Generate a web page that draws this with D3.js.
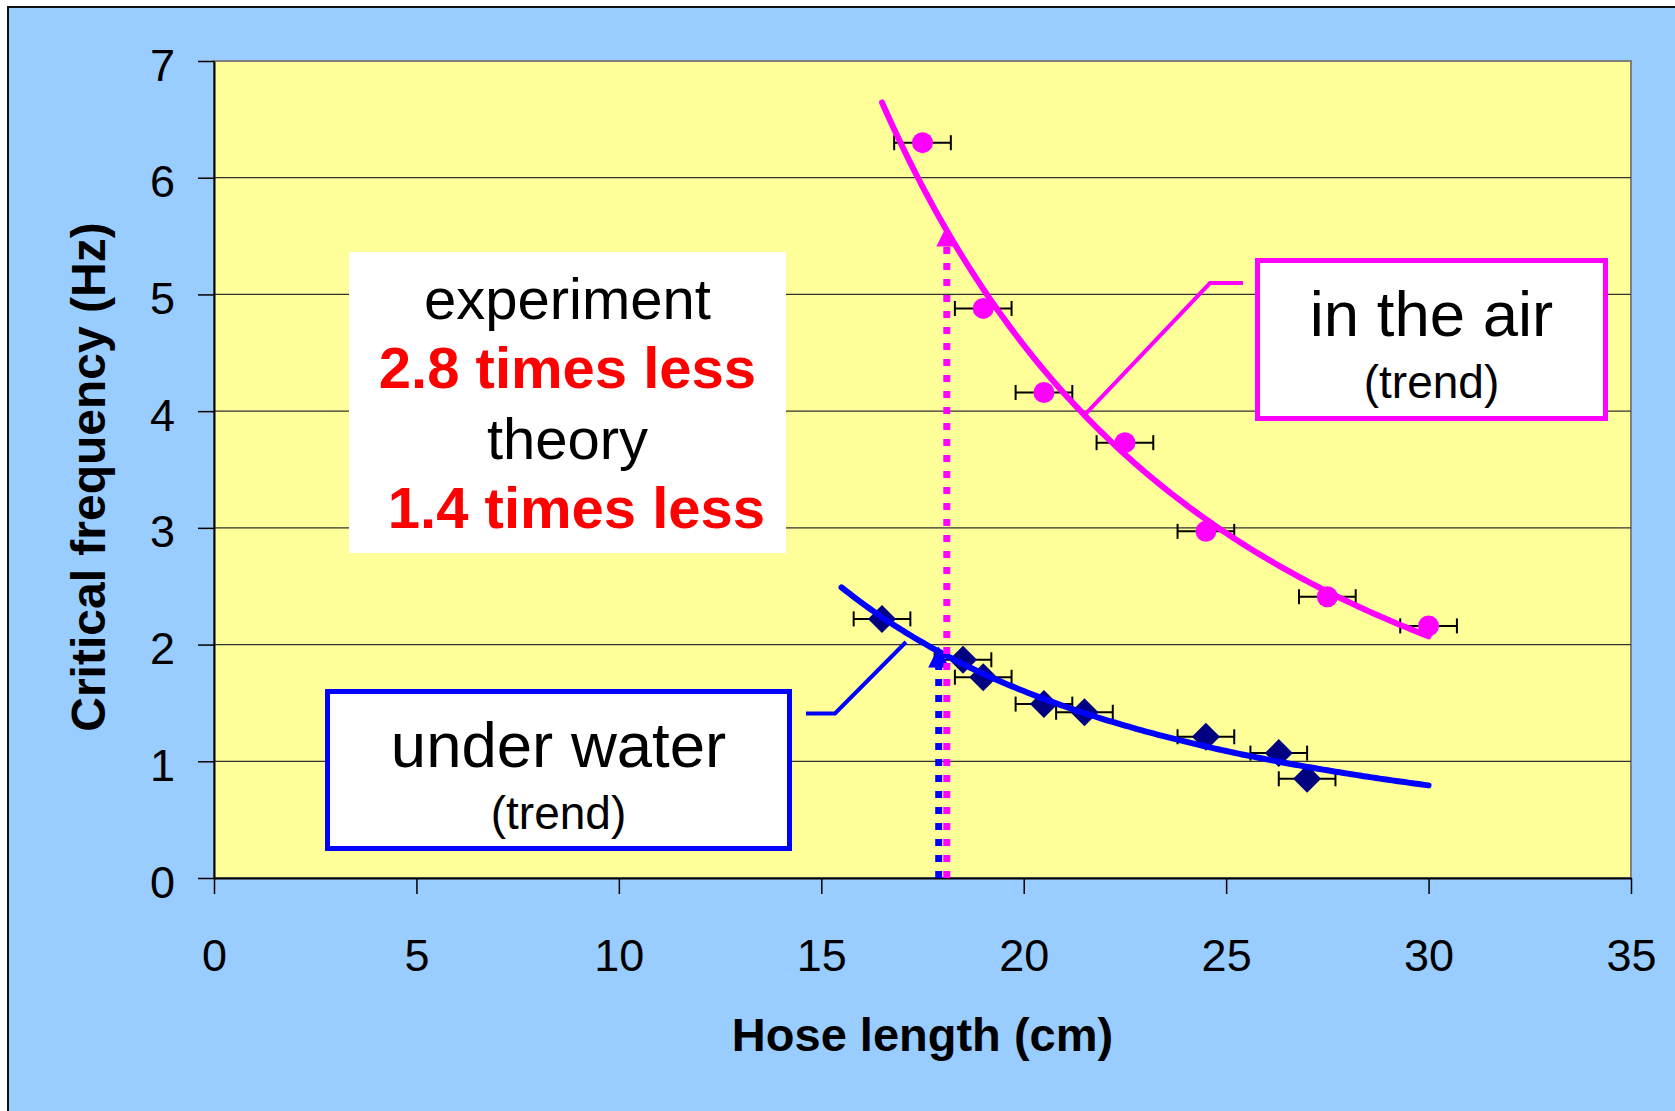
<!DOCTYPE html>
<html>
<head>
<meta charset="utf-8">
<script src="https://cdn.jsdelivr.net/npm/d3@7"></script>
<style>
body { margin: 0; background: #fff; }
text { font-family: "Liberation Sans", Arial, sans-serif; }
</style>
</head>
<body>
<svg width="1675" height="1111"></svg>
<script>
var xTicks = [0, 5, 10, 15, 20, 25, 30, 35],
    yTicks = [0, 1, 2, 3, 4, 5, 6, 7];

// in the air
var airLength = [17.5, 19, 20.5, 22.5, 24.5, 27.5, 30],
    airFreq = [6.30, 4.88, 4.16, 3.73, 2.97, 2.41, 2.16];
// under water
var waterLength = [16.5, 18.5, 19, 20.5, 21.5, 24.5, 26.3, 27],
    waterFreq = [2.22, 1.87, 1.72, 1.49, 1.42, 1.21, 1.07, 0.85];

var lengthError = 0.7;
var airTrendRange = [16.5, 30], waterTrendRange = [15.5, 30];
var airCritical = 18.1, waterCritical = 17.9;

var svg = d3.select("svg");
var x = d3.scaleLinear().domain([0, 35]).range([214, 1631]),
    y = d3.scaleLinear().domain([0, 7]).range([878, 61]);

// power trendline fitted in log space (same as excel "power" trend)
function powerFit(xs, ys) {
    var lx = xs.map(Math.log), ly = ys.map(Math.log),
        mx = d3.mean(lx), my = d3.mean(ly),
        b = d3.sum(lx, (v, i) => (v - mx) * (ly[i] - my)) / d3.sum(lx, v => (v - mx) * (v - mx)),
        a = Math.exp(my - b * mx);
    return t => a * Math.pow(t, b);
}
var airTrend = powerFit(airLength, airFreq),
    waterTrend = powerFit(waterLength, waterFreq);

// background
svg.append("rect").attr("x", 8).attr("y", 7).attr("width", 1700).attr("height", 1200)
    .attr("fill", "#99ccff").attr("stroke", "#111").attr("stroke-width", 2);
svg.append("rect").attr("x", x(0)).attr("y", y(7)).attr("width", x(35) - x(0)).attr("height", y(0) - y(7))
    .attr("fill", "#ffff99").attr("stroke", "#808080").attr("stroke-width", 2);

// grid
svg.append("g").selectAll("line")
    .data(yTicks.filter(d => d > 0 && d < 7))
    .enter().append("line")
    .attr("x1", x(0)).attr("x2", x(35))
    .attr("y1", d => y(d)).attr("y2", d => y(d))
    .attr("stroke", "#333").attr("stroke-width", 1.3);

// axes
var xAxis = svg.append("g").attr("transform", `translate(0,${y(0)})`)
    .call(d3.axisBottom(x).tickValues(xTicks).tickFormat(d3.format("d")).tickSize(16).tickSizeOuter(0));
var yAxis = svg.append("g").attr("transform", `translate(${x(0)},0)`)
    .call(d3.axisLeft(y).tickValues(yTicks).tickFormat(d3.format("d")).tickSize(16).tickSizeOuter(0));
[xAxis, yAxis].forEach(function(g) {
    g.select(".domain").attr("stroke", "#000").attr("stroke-width", 2);
    g.selectAll(".tick line").attr("stroke", "#000").attr("stroke-width", 1.5);
    g.selectAll(".tick text").attr("font-size", 45).attr("fill", "#000")
        .style("font-family", '"Liberation Sans", Arial, sans-serif');
});
xAxis.selectAll(".tick text").attr("y", 93).attr("dy", null);
yAxis.selectAll(".tick text").attr("x", -39).attr("dy", 19);

svg.append("text").attr("x", (x(0) + x(35)) / 2).attr("y", 1051)
    .attr("text-anchor", "middle").attr("font-size", 47).attr("font-weight", "bold")
    .text("Hose length (cm)");
svg.append("text").attr("transform", "translate(105,477) rotate(-90)")
    .attr("text-anchor", "middle").attr("font-size", 48).attr("font-weight", "bold")
    .text("Critical frequency (Hz)");

// comparison box
svg.append("rect").attr("x", 349).attr("y", 252).attr("width", 437).attr("height", 301).attr("fill", "#fff");
var lines = [
    {t: "experiment", c: "#000", w: "normal", yy: 319, dx: 0},
    {t: "2.8 times less", c: "#ff0000", w: "bold", yy: 388, dx: 0},
    {t: "theory", c: "#000", w: "normal", yy: 459, dx: 0},
    {t: "1.4 times less", c: "#ff0000", w: "bold", yy: 528, dx: 9}
];
svg.append("g").selectAll("text").data(lines).enter().append("text")
    .attr("x", d => 567.5 + d.dx).attr("y", d => d.yy)
    .attr("text-anchor", "middle").attr("font-size", 58)
    .attr("font-weight", d => d.w).attr("fill", d => d.c)
    .text(d => d.t);

// error bars
function errorBars(xs, ys) {
    var g = svg.append("g").attr("stroke", "#000").attr("stroke-width", 2);
    xs.forEach(function(v, i) {
        var yy = y(ys[i]), x0 = x(v - lengthError), x1 = x(v + lengthError);
        g.append("line").attr("x1", x0).attr("x2", x1).attr("y1", yy).attr("y2", yy);
        g.append("line").attr("x1", x0).attr("x2", x0).attr("y1", yy - 7.5).attr("y2", yy + 7.5);
        g.append("line").attr("x1", x1).attr("x2", x1).attr("y1", yy - 7.5).attr("y2", yy + 7.5);
    });
}
errorBars(airLength, airFreq);
errorBars(waterLength, waterFreq);

svg.append("g").selectAll("circle").data(airLength).enter().append("circle")
    .attr("cx", d => x(d)).attr("cy", (d, i) => y(airFreq[i])).attr("r", 10.5)
    .attr("fill", "#ff00ff");
svg.append("g").selectAll("path").data(waterLength).enter().append("path")
    .attr("d", d3.symbol(d3.symbolDiamond2, 500))
    .attr("transform", (d, i) => `translate(${x(d)},${y(waterFreq[i])})`)
    .attr("fill", "#000080");

// trendlines
var line = d3.line().x(d => x(d[0])).y(d => y(d[1]));
function trendPath(f, range, color) {
    var pts = d3.range(range[0], range[1] + 0.001, 0.1).map(t => [t, f(t)]);
    svg.append("path").datum(pts).attr("d", line)
        .attr("fill", "none").attr("stroke", color).attr("stroke-width", 6)
        .attr("stroke-linecap", "round");
}
trendPath(airTrend, airTrendRange, "#ff00ff");
trendPath(waterTrend, waterTrendRange, "#0000ff");

// critical length markers
function critical(xc, f, color) {
    var cx = x(xc), tip = y(f(xc)) - 5;
    svg.append("line").attr("x1", cx).attr("x2", cx).attr("y1", y(0)).attr("y2", tip + 20)
        .attr("stroke", color).attr("stroke-width", 7).attr("stroke-dasharray", "7 9");
    svg.append("path")
        .attr("d", `M${cx},${tip}L${cx + 10.5},${tip + 21}L${cx - 10.5},${tip + 21}Z`)
        .attr("fill", color);
}
critical(waterCritical, waterTrend, "#0000ff");
critical(airCritical, airTrend, "#ff00ff");

// callouts
function callout(box, label, pts, color) {
    svg.append("path").datum(pts).attr("d", d3.line())
        .attr("fill", "none").attr("stroke", color).attr("stroke-width", 4);
    svg.append("rect").attr("x", box[0]).attr("y", box[1]).attr("width", box[2]).attr("height", box[3])
        .attr("fill", "#fff").attr("stroke", color).attr("stroke-width", 5);
    var cx = box[0] + box[2] / 2;
    svg.append("text").attr("x", cx).attr("y", box[1] + 75).attr("text-anchor", "middle")
        .attr("font-size", 63.5).text(label);
    svg.append("text").attr("x", cx).attr("y", box[1] + 137).attr("text-anchor", "middle")
        .attr("font-size", 46).text("(trend)");
}
callout([1257.5, 260.5, 348, 158], "in the air",
    [[x(21.5), y(airTrend(21.5))], [1210, 283], [1243, 283]], "#ff00ff");
callout([327.5, 691.5, 462, 157], "under water",
    [[906, 642], [835, 713.5], [806, 713.5]], "#0000ff");
</script>
</body>
</html>
